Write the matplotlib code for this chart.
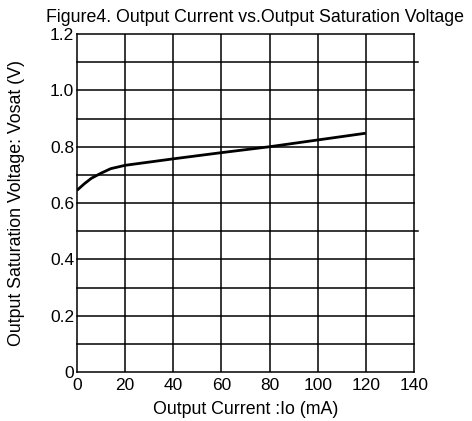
import numpy as np
import matplotlib.pyplot as plt

plt.rcParams['font.family'] = ['Liberation Sans', 'DejaVu Sans']

# curve
current_ma = [0, 3, 6, 10, 14, 20, 40, 60, 80, 100, 120]
vosat = [0.645, 0.668, 0.688, 0.706, 0.722, 0.734, 0.757, 0.779, 0.800, 0.824, 0.848]

x_ticks = [0, 20, 40, 60, 80, 100, 120, 140]
y_ticks = [0, 0.2, 0.4, 0.6, 0.8, 1.0, 1.2]
y_tick_labels = ['0', '0.2', '0.4', '0.6', '0.8', '1.0', '1.2']


def generate_plot():
    fig = plt.figure(figsize=(4.72, 4.21), dpi=100)
    ax = fig.add_axes([0.163, 0.1164, 0.714, 0.8026])

    # grid: every 20 mA and every 0.1 V
    for x in x_ticks[1:-1]:
        ax.axvline(x, color='black', lw=1.1, zorder=1)
    for i in range(1, 12):
        y = i / 10
        # a couple of lines run a little past the frame in the original
        xmax = 1.012 if i in (5, 11) else 1.0
        ax.axhline(y, xmax=xmax, color='black', lw=1.1, zorder=1, clip_on=False)

    ax.plot(current_ma, vosat, color='black', lw=2.0, zorder=3,
            solid_capstyle='butt')

    ax.set_xlim(0, 140)
    ax.set_ylim(0, 1.2)
    ax.set_xticks(x_ticks)
    ax.set_yticks(y_ticks)
    ax.set_yticklabels(y_tick_labels)
    ax.tick_params(length=0, labelsize=12.5)
    ax.tick_params(axis='x', pad=4)
    ax.tick_params(axis='y', pad=2)
    for s in ax.spines.values():
        s.set_linewidth(1.1)
        s.set_color('black')

    ax.set_xlabel('Output Current :Io (mA)', fontsize=12.8, labelpad=6)
    ax.set_ylabel('Output Saturation Voltage: Vosat (V)', fontsize=12.8, labelpad=18)
    ax.set_title('Figure4. Output Current vs.Output Saturation Voltage',
                 fontsize=12.8, pad=9, x=0.527)

    fig.savefig('out.png', dpi=100)


if __name__ == "__main__":
    generate_plot()
